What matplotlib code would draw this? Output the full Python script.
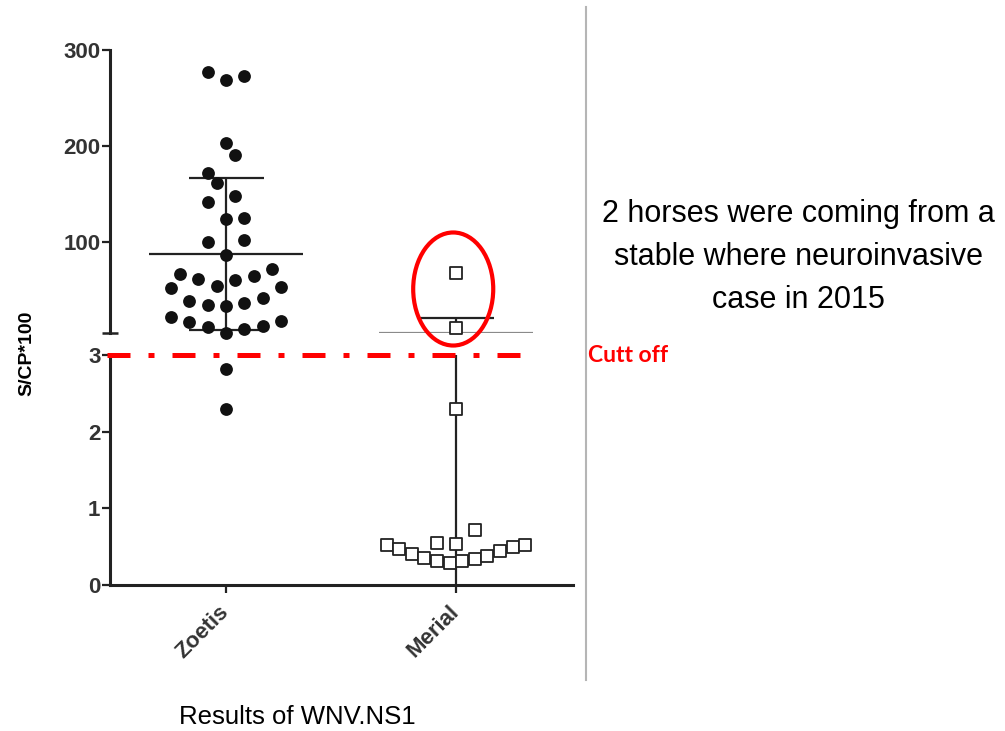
import matplotlib
matplotlib.use('Agg')
import matplotlib.pyplot as plt
import numpy as np
from matplotlib.patches import Ellipse
from matplotlib.lines import Line2D


groups = ['Zoetis', 'Merial']

# S/CP*100 values, with the column each dot sits in
zoetis_values = [277.3, 268.7, 272.9, 202.6, 190.4, 171.8, 160.8, 147.8, 141.0,
                 123.6, 124.3, 99.6, 102.0, 86.0, 65.9, 61.0, 53.6, 60.0, 64.0,
                 71.4, 51.2, 52.3, 38.3, 33.8, 33.1, 36.3, 41.4, 21.6, 15.8,
                 11.3, 4.3, 8.4, 12.0, 17.4, 2.82, 2.29]
zoetis_slots = [-1, 0, 1, 0, 0.5, -1, -0.5, 0.5, -1,
                0, 1, -1, 1, 0, -2.5, -1.5, -0.5, 0.5, 1.5,
                2.5, -3, 3, -2, -1, 0, 1, 2, -3, -2,
                -1, 0, 1, 2, 3, 0, 0]

merial_values = [66.9, 9.5, 2.30, 0.72, 0.55, 0.54, 0.52, 0.47, 0.40,
                 0.35, 0.31, 0.29, 0.31, 0.34, 0.38, 0.44, 0.50, 0.52]
merial_slots = [0, 0, 0, 1.5, -1.5, 0, -5.5, -4.5, -3.5,
                -2.5, -1.5, -0.5, 0.5, 1.5, 2.5, 3.5, 4.5, 5.5]

upper_ticks = [100, 200, 300]
lower_ticks = [0, 1, 2, 3]
upper_limits = (4.6, 300)
lower_limits = (0, 3)
cutoff = 3

note = '2 horses were coming from a\nstable where neuroinvasive\ncase in 2015'

DARK = '#222222'
RED = '#ff0000'
XLIM = (-0.504, 1.509)


def style_axis(ax, ticks, limits):
    ax.set_xlim(*XLIM)
    ax.set_ylim(*limits)
    ax.set_yticks(ticks)
    ax.set_yticklabels([str(t) for t in ticks], fontsize=16, fontweight='bold',
                       color='#333333', family='Liberation Sans')
    ax.spines['top'].set_visible(False)
    ax.spines['right'].set_visible(False)
    ax.spines['left'].set_linewidth(2.2)
    ax.spines['left'].set_color(DARK)
    ax.spines['bottom'].set_linewidth(2.2)
    ax.spines['bottom'].set_color(DARK)
    ax.tick_params(axis='y', direction='out', length=6, width=1.6, color=DARK, pad=1)
    ax.patch.set_alpha(0)


def draw_group(ax_top, ax_bot, pos, values, slots, slot_w, marker, face, half_mean, half_cap,
               mean_color=DARK):
    values = np.asarray(values)
    xs = pos + np.asarray(slots) * slot_w
    mean = values.mean()
    sd = values.std(ddof=1)

    for ax in (ax_top, ax_bot):
        ax.errorbar([pos], [mean], yerr=[[sd], [sd]], fmt='none', ecolor=DARK,
                    elinewidth=1.6, capsize=half_cap, capthick=1.6, zorder=2)
        ax.hlines(mean, pos - half_mean, pos + half_mean, color=mean_color, linewidth=1.6, zorder=2)

    high = values >= cutoff
    kw = dict(marker=marker, s=85, zorder=3, clip_on=False)
    if face == 'fill':
        kw.update(color='#111111', linewidths=0)
    else:
        kw.update(facecolor='white', edgecolor=DARK, linewidths=1.3)
    ax_top.scatter(xs[high], values[high], **kw)
    ax_bot.scatter(xs[~high], values[~high], **kw)


fig = plt.figure(figsize=(10.05, 7.31), dpi=100)
fig.patch.set_facecolor('white')

ax_top = fig.add_axes([0.1095, 0.5445, 0.4607, 0.3871])
ax_bot = fig.add_axes([0.1095, 0.1997, 0.4607, 0.3146])

style_axis(ax_top, upper_ticks, upper_limits)
style_axis(ax_bot, lower_ticks, lower_limits)

# upper segment: no x axis, short break marker at its foot
ax_top.spines['bottom'].set_visible(False)
ax_top.set_xticks([])
ax_top.set_yticks([upper_limits[0]], minor=True)
ax_top.tick_params(axis='y', which='minor', direction='inout', length=11, width=1.8, color=DARK)

ax_bot.set_xticks(range(len(groups)))
ax_bot.set_xticklabels(groups, rotation=45, ha='right', va='center', rotation_mode='anchor',
                       fontsize=16, fontweight='bold', color='#333333', family='Liberation Sans')
ax_bot.tick_params(axis='x', direction='out', length=6, width=1.6, color=DARK, pad=11)

draw_group(ax_top, ax_bot, 0, zoetis_values, zoetis_slots, 0.080, 'o', 'fill', 0.333, 27)
draw_group(ax_top, ax_bot, 1, merial_values, merial_slots, 0.0548, 's', 'open', 0.333, 27,
           mean_color='#8a8a8a')

# cut-off line
ax_bot.plot([XLIM[0] - 0.013, 1.30], [cutoff, cutoff], color=RED, linewidth=3.6,
            dashes=(4.6, 3.6, 1.2, 3.6), solid_capstyle='butt', dash_capstyle='butt',
            clip_on=False, zorder=4)
fig.text(0.585, 1 - 355 / 731, 'Cutt off', color=RED, fontsize=16.5, fontweight='bold',
         family='Lato', ha='left', va='center')

# circle round the two Merial outliers
ring = Ellipse((0.988, 50.5), 0.348, 118, fill=False, edgecolor=RED, linewidth=3.0,
               clip_on=False, zorder=5)
ax_top.add_patch(ring)

# divider between chart and note
fig.add_artist(Line2D([586 / 1005, 586 / 1005], [1 - 7 / 731, 1 - 680 / 731],
                      transform=fig.transFigure, color='#b5b5b5', linewidth=1.5))

fig.text(798 / 1005, 1 - 257 / 731, note, fontsize=22, family='Liberation Sans',
         ha='center', va='center', linespacing=1.58, color='black')

fig.text(27 / 1005, 1 - 353 / 731, 'S/CP*100', rotation=90, fontsize=14, fontweight='bold',
         family='Liberation Sans', ha='center', va='center')
fig.text(297 / 1005, 1 - 717 / 731, 'Results of WNV.NS1', fontsize=18.5,
         family='Liberation Sans', ha='center', va='center')

plt.savefig('out.png', dpi=100)
